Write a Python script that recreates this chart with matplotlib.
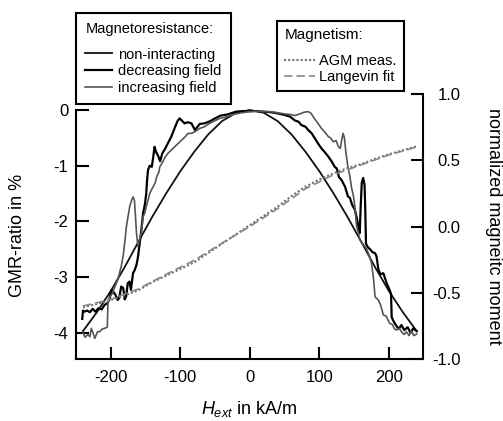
import matplotlib
matplotlib.use('Agg')
import matplotlib.pyplot as plt

plt.rcParams['font.family'] = ['Liberation Sans', 'DejaVu Sans']
plt.rcParams['axes.unicode_minus'] = False
plt.rcParams['mathtext.fontset'] = 'custom'
plt.rcParams['mathtext.rm'] = 'Liberation Sans'
plt.rcParams['mathtext.it'] = 'Liberation Sans:italic'

# GMR, non-interacting model
x_ni = [-240, -220, -200, -180, -160, -140, -120, -100, -80, -60, -40, -20, 0,
        20, 40, 60, 80, 100, 120, 140, 160, 180, 200, 220, 240]
gmr_ni = [-3.97, -3.63, -3.25, -2.82, -2.36, -1.91, -1.49, -1.1, -0.75, -0.44, -0.2, -0.05, 0.0,
          -0.05, -0.2, -0.44, -0.75, -1.1, -1.49, -1.91, -2.36, -2.82, -3.25, -3.63, -3.97]

# GMR, decreasing field (from +240 down to -240)
x_dec = [240, 235, 231, 227, 222, 218, 214, 211, 207, 204, 203, 201, 197, 192, 188, 185, 182, 180,
         176, 173, 170, 167, 166, 165, 163, 161, 159.5, 158, 156, 154, 151, 147, 144, 141, 137, 132,
         128, 125, 122, 118, 113, 108, 103, 98, 93, 89, 84, 80, 74, 70, 65, 58, 50, 40, 30, 20, 10,
         0, -10, -20, -32, -42, -50, -57, -65, -72, -79, -84, -89, -94, -97, -101, -104, -108, -113,
         -118, -122, -126, -129, -132, -135, -137, -139, -141, -144, -146.5, -148, -149, -151,
         -153.5, -156, -158, -161, -163, -165.5, -168, -171, -173, -175.5, -178, -180, -182, -185,
         -188, -190, -194, -199, -202, -205, -209, -213, -218, -222, -226, -230, -234, -238, -240, -241]
gmr_dec = [-3.97, -3.92, -4.0, -3.9, -3.95, -3.86, -3.93, -3.88, -3.8, -3.72, -3.3, -3.23, -3.12,
           -2.93, -2.95, -2.87, -2.62, -2.57, -2.55, -2.5, -2.47, -2.4, -1.8, -1.35, -1.22, -1.3,
           -1.7, -2.21, -2.09, -1.95, -1.79, -1.7, -1.58, -1.55, -1.38, -1.26, -1.2, -1.05, -1.02,
           -0.93, -0.84, -0.76, -0.69, -0.6, -0.5, -0.42, -0.36, -0.3, -0.27, -0.21, -0.19, -0.12,
           -0.09, -0.06, -0.04, -0.03, -0.02, -0.02, -0.02, -0.03, -0.08, -0.1, -0.15, -0.2, -0.24,
           -0.25, -0.36, -0.24, -0.22, -0.24, -0.2, -0.15, -0.2, -0.32, -0.48, -0.6, -0.7, -0.78,
           -0.92, -0.82, -0.75, -0.66, -0.85, -1.02, -1.0, -1.08, -1.3, -1.5, -1.7, -1.85, -2.15,
           -2.35, -2.65, -2.78, -2.87, -2.93, -3.23, -3.08, -3.11, -3.35, -3.4, -3.2, -3.17, -3.38,
           -3.41, -3.3, -3.23, -3.4, -3.47, -3.5, -3.58, -3.56, -3.62, -3.57, -3.63, -3.6, -3.62,
           -3.6, -3.75]

# GMR, increasing field (from -240 up to +240)
x_inc = [-240, -237, -233, -230, -228, -225, -223, -219, -216, -212, -209, -205, -204, -201, -198,
         -194, -190, -185, -182, -180, -177.5, -175, -172.7, -170, -168, -166, -165, -163, -161,
         -158, -156, -153.5, -151, -149, -146, -144, -141, -139, -136, -134, -131, -129.5, -126,
         -122, -118, -113, -108, -103, -98, -93, -89, -84, -79, -72, -65, -58, -50, -43, -36, -28,
         -20, -12, 0, 10, 20, 30, 40, 50, 58, 65, 72, 78, 84, 88, 92, 98, 103, 108, 113, 116, 120,
         124, 127, 130, 132, 134, 136, 138, 141, 144, 146, 149, 151, 153.5, 156, 158, 162, 165.5,
         168, 172, 175, 178, 180, 182, 184.7, 188, 192, 196, 201, 205, 208, 211, 215, 218, 222,
         225, 229, 232, 236, 240]
gmr_inc = [-4.0, -4.08, -4.03, -4.07, -3.92, -4.02, -4.1, -3.98, -3.98, -3.93, -3.92, -3.9, -3.45,
           -3.35, -3.3, -3.17, -3.05, -2.81, -2.6, -2.39, -2.09, -1.9, -1.73, -1.62, -1.56, -1.62,
           -1.8, -2.21, -2.45, -2.3, -2.2, -1.91, -1.85, -1.73, -1.6, -1.5, -1.42, -1.38, -1.3,
           -1.2, -1.12, -1.02, -0.95, -0.85, -0.78, -0.72, -0.66, -0.6, -0.54, -0.48, -0.42, -0.42,
           -0.39, -0.33, -0.3, -0.24, -0.19, -0.15, -0.13, -0.09, -0.07, -0.05, -0.03, -0.02, -0.03,
           -0.03, -0.05, -0.07, -0.08, -0.1, -0.07, -0.04, -0.03, -0.06, -0.14, -0.24, -0.33, -0.4,
           -0.48, -0.5, -0.57, -0.55, -0.65, -0.69, -0.55, -0.42, -0.5, -0.75, -1.02, -1.2, -1.38,
           -1.55, -1.73, -2.09, -2.2, -2.33, -2.4, -2.45, -2.5, -2.62, -2.75, -3.05, -3.35, -3.38,
           -3.41, -3.5, -3.68, -3.7, -3.83, -3.85, -3.93, -3.95, -3.92, -3.98, -4.03, -3.98, -4.05,
           -3.97, -4.05, -4.02]

# magnetisation (right axis)
x_agm = [-240, -220, -200, -180, -160, -140, -120, -100, -80, -60, -40, -20, 0,
         20, 40, 60, 80, 100, 120, 140, 160, 180, 200, 220, 240]
m_agm = [-0.61, -0.585, -0.555, -0.52, -0.48, -0.42, -0.37, -0.32, -0.27, -0.2, -0.13, -0.06, 0.01,
         0.08, 0.15, 0.23, 0.3, 0.355, 0.4, 0.44, 0.47, 0.51, 0.545, 0.575, 0.605]
x_lan = [-240, -200, -160, -120, -80, -40, 0, 40, 80, 120, 160, 200, 240]
m_lan = [-0.6, -0.55, -0.47, -0.36, -0.255, -0.125, 0.0, 0.135, 0.285, 0.39, 0.465, 0.54, 0.6]

fig = plt.figure(figsize=(5.03, 4.21), dpi=100)
ax = fig.add_axes([76/503, 62/421, 347/503, 265/421])
ax2 = ax.twinx()

l_ni, = ax.plot(x_ni, gmr_ni, color='#111111', lw=1.3, label='non-interacting')
l_dec, = ax.plot(x_dec, gmr_dec, color='black', lw=1.6, label='decreasing field')
l_inc, = ax.plot(x_inc, gmr_inc, color='#555555', lw=1.2, label='increasing field')

l_agm, = ax2.plot(x_agm, m_agm, color='#707070', lw=1.5, ls=(0, (1, 1)), label='AGM meas.')
l_lan, = ax2.plot(x_lan, m_lan, color='#888888', lw=1.2, ls=(0, (5, 2.5)), label='Langevin fit')

ax.set_xlim(-250, 249)
ax.set_ylim(-4.47, 0.287)
ax2.set_ylim(-1, 1)

for s in ['top', 'right']:
    ax.spines[s].set_visible(False)
for s in ['top', 'left', 'bottom']:
    ax2.spines[s].set_visible(False)
ax.spines['left'].set_bounds(-4.47, 0)
for s in ax.spines.values():
    s.set_linewidth(1.5)
ax2.spines['right'].set_linewidth(1.5)

ax.tick_params(axis='both', direction='in', length=9, width=1.5, labelsize=12)
ax.tick_params(axis='x', pad=8)
ax.tick_params(axis='y', pad=5.5)
ax2.tick_params(axis='y', direction='in', length=9, width=1.5, labelsize=12, pad=27)

ax.set_xticks([-200, -100, 0, 100, 200], ['-200', '-100', '0', '100', '200'])
ax.set_yticks([-4, -3, -2, -1, 0], ['-4', '-3', '-2', '-1', '0'])
ax2.set_yticks([-1, -0.5, 0, 0.5, 1], ['-1.0', '-0.5', '0.0', '0.5', '1.0'], ha='right')

ax.set_xlabel(r'$H_{ext}$ in kA/m', fontsize=13, va='bottom')
ax.xaxis.set_label_coords(0.5, -0.226)
ax.set_ylabel('GMR-ratio in %', fontsize=13)
ax.yaxis.set_label_coords(-0.145, 0.468)
ax2.set_ylabel('normalized magneitc moment', fontsize=13, rotation=270, va='bottom')
ax2.yaxis.set_label_coords(1.179, 0.5)

leg1 = fig.legend(handles=[l_ni, l_dec, l_inc], title='Magnetoresistance:',
                  loc='upper left', bbox_to_anchor=(76/503, 1 - 13/421),
                  fontsize=10.5, title_fontsize=10.5, frameon=True, fancybox=False,
                  edgecolor='black', framealpha=1, borderaxespad=0, borderpad=0.65,
                  handlelength=1.8, handletextpad=0.45, labelspacing=0.18, alignment='left')
leg1.get_frame().set_linewidth(1.5)
leg1._legend_box.sep = 8

leg2 = fig.legend(handles=[l_agm, l_lan], title='Magnetism:',
                  loc='upper left', bbox_to_anchor=(277/503, 1 - 21/421),
                  fontsize=10.5, title_fontsize=11, frameon=True, fancybox=False,
                  edgecolor='black', framealpha=1, borderaxespad=0, borderpad=0.5,
                  handlelength=2.1, handletextpad=0.3, labelspacing=0.12, alignment='left')
leg2.get_frame().set_linewidth(1.5)
leg2._legend_box.sep = 8.5

fig.savefig('out.png', dpi=100)
